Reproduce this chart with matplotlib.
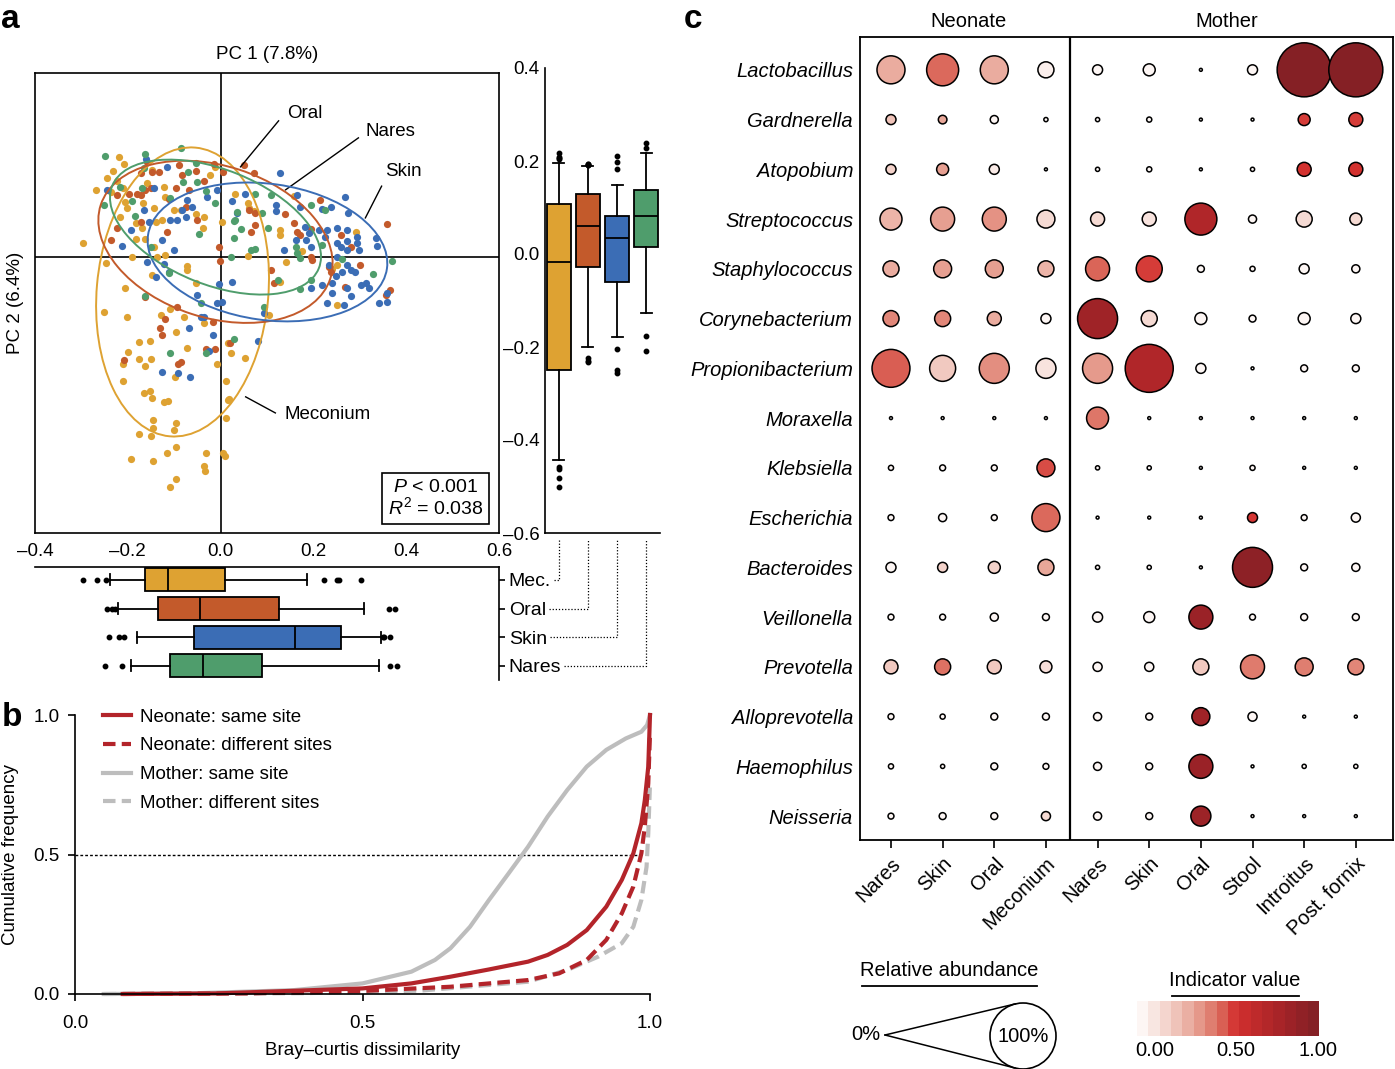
import matplotlib
matplotlib.use("Agg")
import numpy as np
import matplotlib.pyplot as plt
from matplotlib.patches import Ellipse, Circle
from matplotlib.lines import Line2D
from matplotlib.colors import LinearSegmentedColormap

plt.rcParams['font.family'] = ['Liberation Sans', 'DejaVu Sans']
plt.rcParams['font.size'] = 13.5
plt.rcParams['mathtext.fontset'] = 'custom'
plt.rcParams['mathtext.rm'] = 'Liberation Sans'
plt.rcParams['mathtext.it'] = 'Liberation Sans:italic'

# ---------------- panel a: PCoA scatter (PC1, PC2) ----------------
groups = ["Meconium", "Oral", "Skin", "Nares"]
group_colors = ["#dea232", "#c35a2b", "#3b6db5", "#4f9d6c"]

meconium_x = [-0.219, -0.208, -0.231, -0.269, -0.223, -0.210, -0.158, -0.147, -0.122, -0.119, -0.144, -0.167,
              -0.205, -0.201, -0.217, -0.183, -0.169, -0.140, -0.126, -0.101, -0.086, -0.054, -0.036, -0.039,
              0.004, -0.022, -0.011, -0.297, -0.183, -0.164, -0.144, -0.119, -0.136, -0.190, -0.248, -0.147,
              -0.073, -0.072, -0.054, -0.205, -0.251, -0.201, -0.129, -0.108, 0.032, -0.244, -0.237,
              0.059, 0.061, 0.072, 0.158, 0.129, 0.129, 0.291, 0.176, 0.058, 0.142, 0.241, 0.250, 0.128,
              0.250, 0.104,
              -0.079, -0.036, -0.097, -0.176, -0.152, -0.200, -0.176, -0.149, -0.210, -0.162, -0.073, -0.007,
              0.016, 0.023, 0.052, -0.099, -0.210, -0.165, -0.153, -0.147, -0.122, -0.114, 0.012, 0.016,
              0.019, 0.011, -0.145, -0.096, -0.146, -0.101, -0.176, -0.149, -0.097, -0.116, -0.032, 0.005,
              0.010, -0.194, -0.146, -0.036, -0.034, -0.096, -0.109]
meconium_y = [0.217, 0.202, 0.188, 0.146, 0.166, 0.149, 0.160, 0.189, 0.153, 0.131, 0.106, 0.117,
              0.120, 0.106, 0.086, 0.073, 0.064, 0.077, 0.080, 0.102, 0.102, 0.094, 0.087, 0.062,
              0.077, 0.178, 0.196, 0.030, 0.039, 0.039, 0.022, 0.004, 0.001, -0.001, -0.014, -0.039,
              -0.019, -0.028, -0.057, -0.068, -0.119, -0.130, -0.126, -0.112, 0.137, 0.171, 0.142,
              0.117, 0.106, 0.099, 0.133, 0.059, 0.047, 0.054, 0.012, 0.003, -0.010, -0.025, -0.017, -0.054,
              -0.104, -0.126,
              -0.131, -0.144, -0.162, -0.185, -0.182, -0.206, -0.222, -0.222, -0.232, -0.238, -0.197, -0.232,
              -0.188, -0.208, -0.220, -0.260, -0.269, -0.296, -0.291, -0.307, -0.316, -0.312, -0.269, -0.311,
              -0.309, -0.351, -0.354, -0.361, -0.372, -0.375, -0.385, -0.390, -0.414, -0.427, -0.427, -0.427,
              -0.432, -0.439, -0.443, -0.454, -0.465, -0.483, -0.499]

oral_x = [-0.172, -0.158, -0.147, -0.133, -0.090, -0.083, -0.054, -0.036, -0.014, 0.006, -0.180, -0.172,
          -0.162, -0.151, -0.197, -0.223, -0.111, -0.097, -0.068, -0.050, -0.004, -0.001, -0.115, -0.172,
          -0.237, -0.162, -0.093, -0.075, -0.223, 0.050,
          0.072, 0.214, 0.138, 0.158, 0.065, 0.075, 0.061, 0.075, 0.165, 0.172, 0.194, 0.260, 0.280,
          0.194, 0.196, 0.108, 0.115, 0.233, 0.237, 0.300, 0.269, 0.359, 0.365, 0.356,
          -0.119, -0.131, -0.127, -0.016, -0.208, -0.092, -0.086, -0.032, -0.013, 0.020]
oral_y = [0.182, 0.207, 0.185, 0.184, 0.200, 0.178, 0.188, 0.165, 0.203, 0.185, 0.138, 0.135,
          0.146, 0.149, 0.138, 0.135, 0.127, 0.149, 0.146, 0.080, 0.022, -0.008, 0.055, 0.077,
          0.037, -0.086, -0.108, 0.109, 0.062, 0.200,
          0.182, 0.124, 0.093, 0.075, 0.055, 0.070, 0.102, 0.095, 0.055, 0.048, 0.060, 0.048, 0.022,
          0.001, -0.007, -0.028, -0.057, -0.021, -0.032, -0.017, -0.065, 0.072, -0.072, -0.083,
          -0.135, -0.154, -0.169, -0.141, -0.224, -0.232, -0.229, -0.201, -0.201, -0.186]

skin_x = [-0.160, -0.115, -0.244, -0.144, -0.072, -0.029, -0.007, 0.025, -0.075, -0.093, -0.154, -0.108,
          -0.194, -0.212, -0.126, -0.101, -0.158, -0.122, -0.111, -0.140, -0.004, 0.025, -0.050, -0.007,
          0.004, -0.036, -0.083, -0.061, -0.165,
          0.129, 0.052, 0.036, 0.119, 0.119, 0.165, 0.172, 0.219, 0.237, 0.269, 0.274, 0.181, 0.190,
          0.183, 0.194, 0.162, 0.136, 0.212, 0.230, 0.251, 0.272, 0.272, 0.295, 0.293, 0.298, 0.334,
          0.338, 0.251, 0.226, 0.259, 0.194, 0.219, 0.241, 0.241, 0.262, 0.280, 0.289, 0.273, 0.302,
          0.313, 0.320, 0.280, 0.230, 0.266, 0.341, 0.359, 0.359, 0.093, 0.251, 0.273, 0.273, 0.233,
          0.248,
          -0.043, -0.068, -0.017, -0.024, -0.126, -0.091, -0.066, 0.081]
skin_y = [0.212, 0.196, 0.146, 0.149, 0.124, 0.131, 0.146, 0.122, 0.087, 0.080, 0.077, 0.080,
          0.059, 0.024, 0.038, 0.015, -0.010, -0.015, -0.032, -0.043, -0.059, -0.054, -0.083, -0.100,
          -0.097, -0.130, 0.102, 0.109, 0.102,
          0.182, 0.138, 0.096, 0.113, 0.099, 0.135, 0.109, 0.104, 0.109, 0.130, 0.096, 0.066, 0.052,
          0.037, 0.022, 0.037, 0.015, 0.059, 0.059, 0.062, 0.059, 0.035, 0.044, 0.031, 0.015, 0.041,
          0.024, 0.031, 0.044, 0.022, -0.068, -0.061, -0.057, -0.079, -0.032, -0.028, -0.032, -0.068, -0.061,
          -0.057, -0.068, -0.085, -0.099, -0.104, -0.099, -0.079, -0.097, -0.122, 0.001, -0.017, 0.015, -0.017,
          -0.041,
          -0.131, -0.154, -0.169, -0.204, -0.250, -0.253, -0.260, -0.182]

nares_x = [-0.249, -0.162, -0.085, -0.052, -0.070, -0.050, -0.080, -0.165, -0.216, -0.169, -0.251, -0.190,
           -0.185, -0.108, -0.032, -0.013, 0.029, 0.036, -0.047, 0.023, -0.151, -0.111, -0.162, -0.043,
           0.075, 0.108, 0.194, 0.226, 0.032, 0.090, 0.043, 0.029, 0.102, 0.065, 0.075, 0.162, 0.164,
           0.219, 0.172, 0.124, 0.171, 0.194, 0.262, 0.329, 0.370, 0.093,
           -0.109, -0.031, 0.029]
nares_y = [0.220, 0.225, 0.238, 0.205, 0.184, 0.164, 0.164, 0.193, 0.153, 0.149, 0.112, 0.122,
           0.089, 0.129, 0.144, 0.117, 0.078, 0.098, 0.050, 0.001, 0.022, -0.034, -0.084, -0.100,
           0.137, 0.135, 0.113, 0.102, 0.080, 0.096, 0.060, 0.041, 0.064, 0.015, 0.017, 0.022, 0.008,
           0.026, -0.003, -0.050, -0.070, -0.050, -0.005, -0.038, -0.008, -0.108,
           -0.209, -0.209, -0.179]

# ellipses: centre, width, height, angle (deg)
ell_cx = [-0.082, -0.011, 0.101, -0.011]
ell_cy = [-0.076, 0.033, 0.011, 0.065]
ell_w = [0.37, 0.52, 0.52, 0.48]
ell_h = [0.63, 0.33, 0.296, 0.25]
ell_ang = [-5, -18, -8, -22]

# box plot summaries, PC2 (vertical) and PC1 (horizontal)
pc2_med = [-0.017, 0.060, 0.034, 0.082]
pc2_q1 = [-0.249, -0.028, -0.061, 0.014]
pc2_q3 = [0.108, 0.130, 0.081, 0.138]
pc2_lo = [-0.442, -0.200, -0.178, -0.127]
pc2_hi = [0.196, 0.189, 0.149, 0.217]
pc2_fliers = [[0.217, 0.206, 0.209, 0.205, -0.457, -0.462, -0.482, -0.500],
              [0.192, 0.191, 0.193, 0.194, -0.224, -0.231, -0.233],
              [0.211, 0.197, 0.183, -0.204, -0.250, -0.256],
              [0.239, 0.228, -0.177, -0.209]]

pc1_med = [-0.113, -0.044, 0.160, -0.037]
pc1_q1 = [-0.163, -0.134, -0.058, -0.108]
pc1_q3 = [0.010, 0.125, 0.260, 0.090]
pc1_lo = [-0.239, -0.222, -0.181, -0.194]
pc1_hi = [0.187, 0.310, 0.346, 0.341]
pc1_fliers = [[-0.297, -0.267, -0.248, 0.222, 0.250, 0.256, 0.302],
              [-0.244, -0.235, -0.228, 0.362, 0.376],
              [-0.241, -0.220, -0.208, 0.350, 0.353, 0.366],
              [-0.249, -0.213, 0.366, 0.381]]
box_labels = ["Mec.", "Oral", "Skin", "Nares"]

# ---------------- panel b: cumulative Bray-Curtis ----------------
neo_same_x = [0.083, 0.246, 0.5, 0.585, 0.653, 0.720, 0.788, 0.822, 0.856, 0.890, 0.924, 0.951, 0.971,
              0.985, 0.991, 0.997, 1.0]
neo_same_y = [0.0, 0.002, 0.020, 0.038, 0.062, 0.088, 0.116, 0.140, 0.176, 0.229, 0.313, 0.409, 0.504,
              0.612, 0.695, 0.815, 1.0]
neo_diff_x = [0.083, 0.3, 0.5, 0.653, 0.788, 0.842, 0.890, 0.924, 0.951, 0.971, 0.985, 0.991, 0.997, 1.0]
neo_diff_y = [0.0, 0.002, 0.011, 0.026, 0.050, 0.074, 0.122, 0.194, 0.289, 0.385, 0.504, 0.600, 0.755, 0.934]
mot_same_x = [0.05, 0.2, 0.381, 0.5, 0.585, 0.626, 0.653, 0.687, 0.720, 0.754, 0.788, 0.822, 0.856, 0.890,
              0.924, 0.958, 0.985, 0.995, 1.0]
mot_same_y = [0.0, 0.002, 0.014, 0.038, 0.080, 0.122, 0.164, 0.241, 0.337, 0.432, 0.528, 0.636, 0.731, 0.815,
              0.875, 0.916, 0.940, 0.964, 1.0]
mot_diff_x = [0.05, 0.4, 0.6, 0.788, 0.856, 0.910, 0.951, 0.971, 0.985, 0.994, 0.997, 1.0]
mot_diff_y = [0.0, 0.003, 0.012, 0.044, 0.086, 0.134, 0.182, 0.241, 0.337, 0.456, 0.576, 0.755]

# ---------------- panel c: indicator taxa ----------------
genera = ["Lactobacillus", "Gardnerella", "Atopobium", "Streptococcus", "Staphylococcus",
          "Corynebacterium", "Propionibacterium", "Moraxella", "Klebsiella", "Escherichia",
          "Bacteroides", "Veillonella", "Prevotella", "Alloprevotella", "Haemophilus", "Neisseria"]
sites = ["Nares", "Skin", "Oral", "Meconium", "Nares", "Skin", "Oral", "Stool", "Introitus", "Post. fornix"]

# relative abundance (%)
abundance = [
    [18, 23.5, 18, 5.9, 2.3, 3.3, 0.2, 2.3, 67, 67],
    [2.3, 1.7, 1.5, 0.4, 0.4, 0.6, 0.2, 0.2, 3.3, 4.5],
    [2.3, 3.3, 2.3, 0.2, 0.4, 0.6, 0.2, 0.4, 4.5, 4.5],
    [11.1, 13.2, 13.2, 7.4, 4.5, 4.5, 23.5, 1.5, 5.9, 3.3],
    [5.9, 7.4, 7.4, 5.9, 13.2, 15.5, 1.1, 0.6, 2.3, 1.5],
    [5.9, 5.9, 4.5, 2.3, 36.7, 5.9, 3.3, 1.1, 3.3, 2.3],
    [33, 15.5, 20.7, 9.2, 20.7, 52.9, 2.3, 0.2, 1.1, 1.1],
    [0.2, 0.2, 0.2, 0.2, 11.1, 0.2, 0.2, 0.2, 0.2, 0.2],
    [0.6, 0.8, 0.8, 7.4, 0.4, 0.4, 0.2, 0.6, 0.2, 0.2],
    [0.8, 1.5, 0.8, 18, 0.2, 0.2, 0.2, 2.3, 0.8, 1.9],
    [2.3, 2.3, 3.3, 5.9, 0.4, 0.4, 0.2, 36.7, 1.1, 1.5],
    [0.8, 0.8, 1.5, 1.1, 2.3, 2.8, 13.2, 0.8, 1.1, 1.1],
    [4.5, 5.9, 4.5, 3.3, 1.9, 1.9, 5.9, 13.2, 7.4, 5.9],
    [0.8, 0.6, 1.1, 1.1, 1.5, 1.1, 7.4, 1.9, 0.2, 0.2],
    [0.6, 0.4, 1.1, 0.8, 1.5, 1.1, 13.2, 0.2, 0.4, 0.4],
    [0.8, 1.1, 1.1, 1.9, 1.5, 1.1, 9.2, 0.2, 0.2, 0.2],
]
indicator = [
    [0.28, 0.45, 0.28, 0.03, 0, 0, 0, 0, 1.0, 1.0],
    [0.20, 0.30, 0, 0, 0, 0, 0, 0, 0.53, 0.53],
    [0.15, 0.32, 0.05, 0, 0, 0, 0, 0, 0.55, 0.55],
    [0.25, 0.32, 0.35, 0.12, 0.12, 0.08, 0.75, 0, 0.12, 0.12],
    [0.28, 0.32, 0.32, 0.25, 0.46, 0.53, 0, 0, 0, 0],
    [0.38, 0.38, 0.28, 0, 0.85, 0.12, 0, 0, 0, 0],
    [0.47, 0.18, 0.36, 0.08, 0.33, 0.75, 0, 0, 0, 0],
    [0, 0, 0, 0, 0.42, 0, 0, 0, 0, 0],
    [0, 0, 0, 0.5, 0, 0, 0, 0, 0, 0],
    [0, 0, 0, 0.45, 0, 0, 0, 0.54, 0, 0],
    [0, 0.15, 0.15, 0.30, 0, 0, 0, 0.95, 0, 0],
    [0, 0, 0, 0, 0, 0, 0.88, 0, 0, 0],
    [0.18, 0.43, 0.18, 0.10, 0, 0, 0.18, 0.41, 0.40, 0.38],
    [0, 0, 0, 0, 0, 0, 0.85, 0, 0, 0],
    [0, 0, 0, 0, 0, 0, 0.88, 0, 0, 0],
    [0, 0, 0, 0.12, 0, 0, 0.87, 0, 0, 0],
]

W, H = 1395, 1069
fig = plt.figure(figsize=(W / 100, H / 100), dpi=100)
CFS = 14.5  # text size in panel c


def rect(x0, y0, x1, y1):
    # pixel box (top-left origin) -> figure fraction
    return [x0 / W, 1 - y1 / H, (x1 - x0) / W, (y1 - y0) / H]


def dash_labels(vals, fmt="{:.1f}"):
    return [fmt.format(v).replace("-", "\u2013") for v in vals]


# ---- scatter ----
ax = fig.add_axes(rect(35, 73, 499, 533))
ax.set_xlim(-0.4, 0.6)
ax.set_ylim(-0.6, 0.4)
ax.axhline(0, color="k", lw=1.2, zorder=1)
ax.axvline(0, color="k", lw=1.2, zorder=1)
pts = [(meconium_x, meconium_y), (oral_x, oral_y), (skin_x, skin_y), (nares_x, nares_y)]
for (xs, ys), c in zip(pts, group_colors):
    ax.scatter(xs, ys, s=27, color=c, lw=0, zorder=2)
for i, c in enumerate(group_colors):
    ax.add_patch(Ellipse((ell_cx[i], ell_cy[i]), ell_w[i], ell_h[i], angle=ell_ang[i],
                         fill=False, ec=c, lw=1.4, zorder=3))
for sp in ax.spines.values():
    sp.set_linewidth(1.2)
xt = [-0.4, -0.2, 0.0, 0.2, 0.4, 0.6]
ax.set_xticks(xt)
ax.set_xticklabels(dash_labels(xt))
ax.tick_params(axis="x", length=0, pad=7)
ax.set_yticks([])
ax.set_title("PC 1 (7.8%)", pad=10, fontsize=13.5)
ax.set_ylabel("PC 2 (6.4%)", labelpad=8)

# group labels with leaders
lab_txt = ["Oral", "Nares", "Skin", "Meconium"]
lab_pos = [(0.181, 0.313), (0.366, 0.272), (0.394, 0.185), (0.231, -0.343)]
lead_a = [(0.125, 0.296), (0.297, 0.259), (0.347, 0.154), (0.118, -0.339)]
lead_b = [(0.043, 0.196), (0.140, 0.146), (0.312, 0.085), (0.054, -0.304)]
for t, p, a, b in zip(lab_txt, lab_pos, lead_a, lead_b):
    ax.text(p[0], p[1], t, ha="center", va="center", fontsize=13.5)
    ax.plot([a[0], b[0]], [a[1], b[1]], color="k", lw=1)
ax.text(0.463, -0.525, "$P$ < 0.001\n$R^2$ = 0.038", ha="center", va="center", fontsize=14,
        linespacing=1.05,
        bbox=dict(boxstyle="square,pad=0.3", fc="white", ec="k", lw=1.2))

# ---- right (PC2) box plot ----
axr = fig.add_axes(rect(545, 68, 660, 533))
st2 = [dict(med=pc2_med[i], q1=pc2_q1[i], q3=pc2_q3[i], whislo=pc2_lo[i], whishi=pc2_hi[i],
            fliers=pc2_fliers[i]) for i in range(4)]
bp = axr.bxp(st2, positions=[1, 2, 3, 4], widths=0.8, patch_artist=True, capwidths=0.38,
             boxprops=dict(lw=1.3), medianprops=dict(color="k", lw=1.3),
             whiskerprops=dict(lw=1.3), capprops=dict(lw=1.3),
             flierprops=dict(marker="o", markerfacecolor="k", markeredgecolor="k", markersize=3.2))
for patch, c in zip(bp["boxes"], group_colors):
    patch.set_facecolor(c)
axr.set_xlim(0.52, 4.48)
axr.set_ylim(-0.6, 0.4)
for s in ["top", "right"]:
    axr.spines[s].set_visible(False)
axr.spines["left"].set_linewidth(1.2)
axr.spines["bottom"].set_linewidth(1.2)
yt = [-0.6, -0.4, -0.2, 0.0, 0.2, 0.4]
axr.set_yticks(yt)
axr.set_yticklabels(dash_labels(yt))
axr.tick_params(axis="y", length=0, pad=4)
axr.set_xticks([])

# ---- bottom (PC1) box plot ----
axb = fig.add_axes(rect(35, 567, 499, 680))
st1 = [dict(med=pc1_med[i], q1=pc1_q1[i], q3=pc1_q3[i], whislo=pc1_lo[i], whishi=pc1_hi[i],
            fliers=pc1_fliers[i]) for i in range(4)]
bpos = [4, 3, 2, 1]
bp = axb.bxp(st1, positions=bpos, widths=0.8, vert=False, patch_artist=True, capwidths=0.38,
             boxprops=dict(lw=1.3), medianprops=dict(color="k", lw=1.3),
             whiskerprops=dict(lw=1.3), capprops=dict(lw=1.3),
             flierprops=dict(marker="o", markerfacecolor="k", markeredgecolor="k", markersize=3.2))
for patch, c in zip(bp["boxes"], group_colors):
    patch.set_facecolor(c)
axb.set_xlim(-0.4, 0.6)
axb.set_ylim(0.51, 4.45)
for s in ["left", "bottom"]:
    axb.spines[s].set_visible(False)
axb.spines["top"].set_linewidth(1.2)
axb.spines["right"].set_linewidth(1.2)
axb.set_xticks([])
axb.yaxis.tick_right()
axb.set_yticks(bpos)
axb.set_yticklabels(box_labels, fontsize=14)
axb.tick_params(axis="y", direction="out", length=4, width=1.2, pad=3)

# dotted connectors between the two box plots
fig.canvas.draw()
rend = fig.canvas.get_renderer()
inv = fig.transFigure.inverted()
for i, tl in enumerate(axb.get_yticklabels()):
    x_end = tl.get_window_extent(rend).x1 + 3
    y_lab = axb.transData.transform((0.6, bpos[i]))[1]
    x_box, y_top = axr.transData.transform((i + 1, -0.6))
    y_top -= 7
    xy = inv.transform([(x_end, y_lab), (x_box, y_lab), (x_box, y_top)])
    fig.add_artist(Line2D(xy[:, 0], xy[:, 1], transform=fig.transFigure, color="k",
                          lw=0.9, ls=(0, (1, 1.5))))

# ---- panel b ----
axc = fig.add_axes(rect(75, 715, 650, 994))
red, gray = "#b3242a", "#bdbdbd"
axc.axhline(0.5, xmax=0.985, color="k", lw=1, ls=(0, (2, 1.5)), zorder=1)
axc.plot(mot_diff_x, mot_diff_y, color=gray, lw=3, ls=(0, (3, 1.5)), label="Mother: different sites", clip_on=False)
axc.plot(mot_same_x, mot_same_y, color=gray, lw=3, label="Mother: same site", clip_on=False)
axc.plot(neo_diff_x, neo_diff_y, color=red, lw=3, ls=(0, (3, 1.5)), label="Neonate: different sites", clip_on=False)
axc.plot(neo_same_x, neo_same_y, color=red, lw=3, label="Neonate: same site", clip_on=False)
axc.set_xlim(0, 1)
axc.set_ylim(0, 1)
for s in ["top", "right"]:
    axc.spines[s].set_visible(False)
axc.spines["left"].set_linewidth(1.2)
axc.spines["bottom"].set_linewidth(1.2)
axc.set_xticks([0, 0.5, 1.0])
axc.set_yticks([0, 0.5, 1.0])
axc.set_xticklabels(["0.0", "0.5", "1.0"])
axc.set_yticklabels(["0.0", "0.5", "1.0"])
axc.tick_params(direction="out", length=5, width=1.2, pad=6)
axc.tick_params(axis="x", pad=10)
axc.set_xlabel("Bray\u2013curtis dissimilarity", labelpad=7)
axc.set_ylabel("Cumulative frequency")
axc.yaxis.set_label_coords(-0.098, 0.5)
h, l = axc.get_legend_handles_labels()
axc.legend(h[::-1], l[::-1], loc="upper left", bbox_to_anchor=(0.035, 1.05), frameon=False,
           handlelength=1.5, handletextpad=0.5, labelspacing=0.62, fontsize=13.5, borderaxespad=0)

# ---- panel c ----
cmap = LinearSegmentedColormap.from_list(
    "ind", [(0, "#fdf6f4"), (0.15, "#f3d2ca"), (0.3, "#e8a698"), (0.45, "#db6a5c"),
            (0.55, "#d3302f"), (0.8, "#a82428"), (1.0, "#852025")])
R100 = 33.0  # px radius of a 100% bubble


def size_of(ab):
    r = R100 * np.sqrt(np.asarray(ab, dtype=float) / 100.0)
    return (2 * r * 0.72) ** 2


axd = fig.add_axes(rect(860, 37, 1393, 840))
ab = np.array(abundance)
iv = np.array(indicator)
cols, rows = np.meshgrid(np.arange(len(sites)), np.arange(len(genera)))
axd.scatter(cols.ravel(), rows.ravel(), s=size_of(ab.ravel()), c=iv.ravel(), cmap=cmap,
            vmin=0, vmax=1, edgecolors="k", linewidths=1.1, zorder=3)
axd.axvline(3.46, color="k", lw=1.6)
axd.set_xlim(-0.6, 9.72)
axd.set_ylim(15.48, -0.66)
for sp in axd.spines.values():
    sp.set_linewidth(1.3)
axd.set_yticks(range(len(genera)))
axd.set_yticklabels(genera, fontstyle="italic", fontsize=CFS)
axd.tick_params(axis="y", length=0, pad=5)
axd.set_xticks(range(len(sites)))
axd.set_xticklabels(sites, rotation=45, ha="right", rotation_mode="anchor", fontsize=CFS)
axd.tick_params(axis="x", direction="out", length=6, width=1.2, pad=4)
axd.text(1.5, -0.78, "Neonate", ha="center", va="bottom", fontsize=CFS)
axd.text(6.5, -0.78, "Mother", ha="center", va="bottom", fontsize=CFS)

# legends for panel c (pixel space)
axl = fig.add_axes(rect(840, 940, 1395, 1069))
axl.set_xlim(840, 1395)
axl.set_ylim(1069, 940)
axl.axis("off")
axl.text(949, 971, "Relative abundance", ha="center", va="center", fontsize=CFS)
axl.plot([862, 1037], [986, 986], color="k", lw=1.3)
cx, cy = 1023, 1036
px_, py_ = 885, 1035
d = np.hypot(cx - px_, cy - py_)
half = np.arcsin(R100 / d)
base = np.arctan2(cy - py_, cx - px_)
tl_ = np.sqrt(d ** 2 - R100 ** 2)
for sgn in (-1, 1):
    a = base + sgn * half
    axl.plot([px_, px_ + tl_ * np.cos(a)], [py_, py_ + tl_ * np.sin(a)], color="k", lw=1.1)
axl.add_patch(Circle((cx, cy), R100, fill=False, ec="k", lw=1.2))
axl.text(866, 1035, "0%", ha="center", va="center", fontsize=CFS)
axl.text(cx, cy, "100%", ha="center", va="center", fontsize=CFS)

axl.text(1235, 981, "Indicator value", ha="center", va="center", fontsize=CFS)
axl.plot([1172, 1299], [996, 996], color="k", lw=1.3)
steps = np.linspace(0, 1, 16)[None, :]
axl.imshow(steps, cmap=cmap, vmin=0, vmax=1, extent=(1137, 1319, 1036, 1001), aspect="auto",
           interpolation="nearest")
for v, xp in zip(["0.00", "0.50", "1.00"], [1155, 1236, 1318]):
    axl.text(xp, 1051, v, ha="center", va="center", fontsize=CFS)
axl.set_xlim(840, 1395)
axl.set_ylim(1069, 940)

# panel letters
for t, x, y in [("a", 10, 20), ("b", 12, 718), ("c", 693, 20)]:
    fig.text(x / W, 1 - y / H, t, fontsize=24, fontweight="bold", ha="center", va="center")

fig.savefig("out.png", dpi=100)
